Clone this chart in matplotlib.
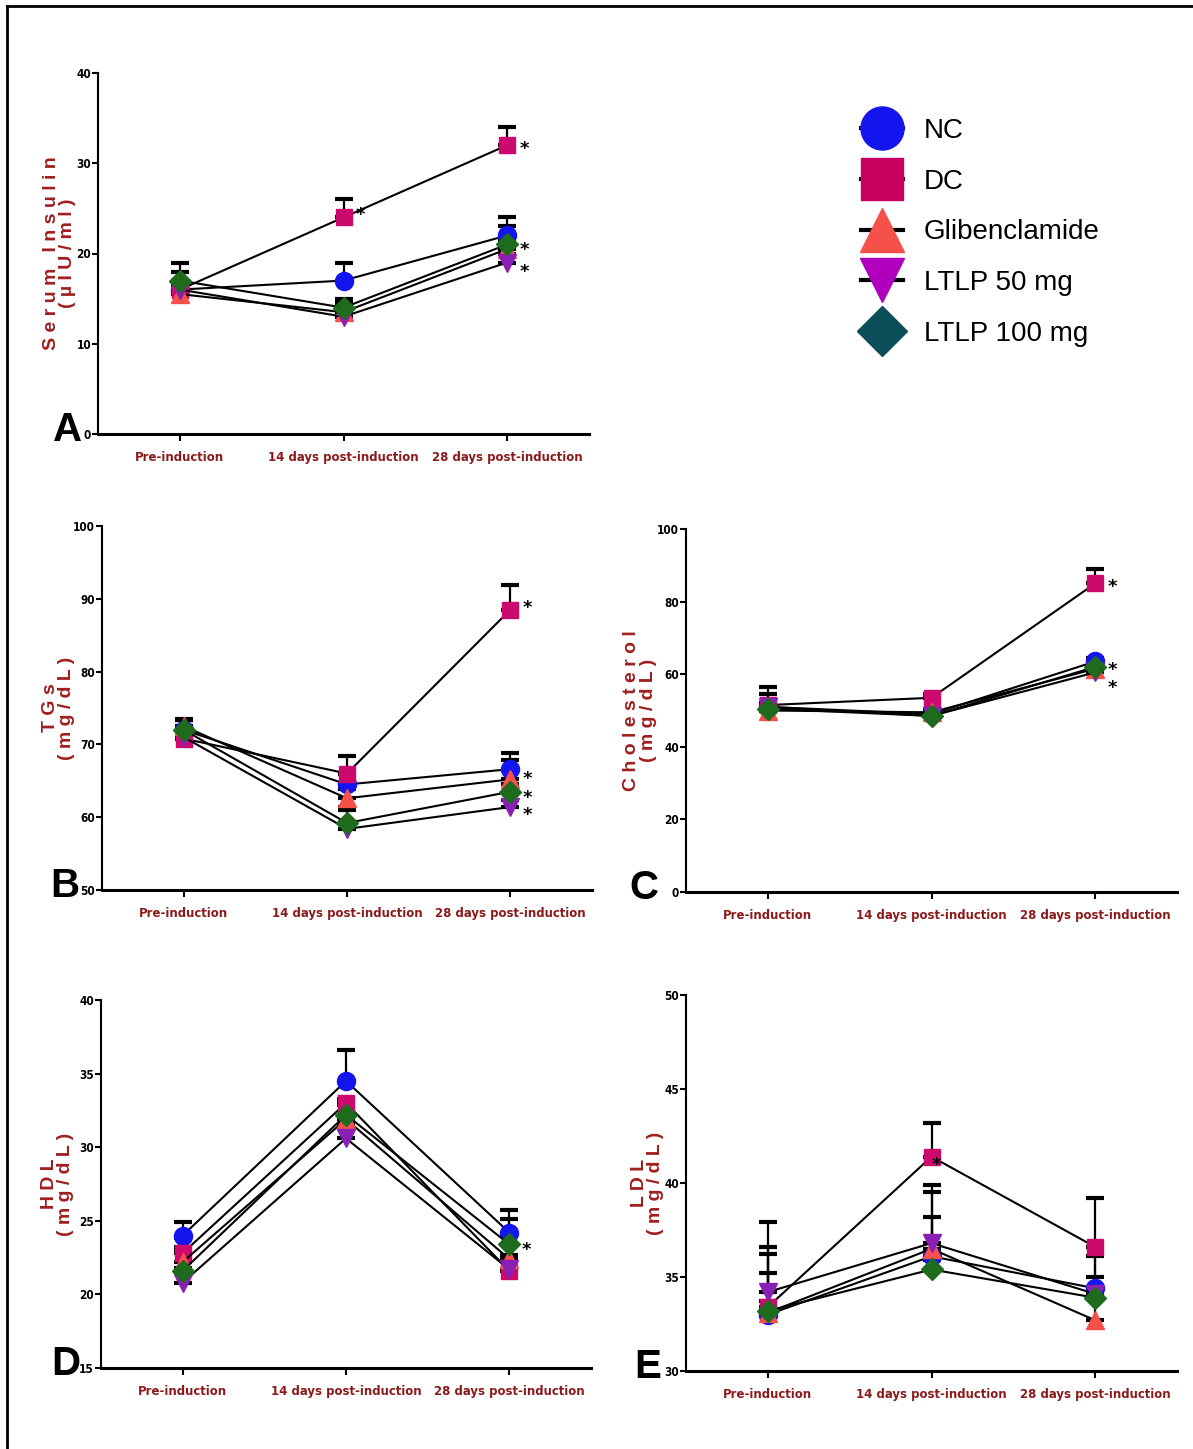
import numpy as np
import matplotlib
matplotlib.use("Agg")
import matplotlib.pyplot as plt
from matplotlib.lines import Line2D
from matplotlib import font_manager as fm

# --- data ---------------------------------------------------------------
groups = ["NC", "DC", "Glibenclamide", "LTLP 50 mg", "LTLP 100 mg"]
timepoints = ["Pre-induction", "14 days post-induction", "28 days post-induction"]

# A: serum insulin (µIU/ml)
insulin_mean = [[16, 17, 22], [16, 24, 32], [15.5, 13.5, 20.5], [16, 13, 19], [17, 14, 21]]
insulin_sem = [[2, 2, 2], [1, 2, 2], [1, 1, 1], [1, 1, 1], [2, 1, 2]]
# B: TGs (mg/dL)
tgs_mean = [[72, 64.5, 66.6], [70.8, 66, 88.5], [72.5, 62.6, 65.2], [71, 58.4, 61.4], [72, 59.2, 63.5]]
tgs_sem = [[1.4, 1.5, 2.2], [2.5, 2.4, 3.4], [1, 1.3, 2.7], [1, 2.6, 1], [1.3, 2.2, 1]]
# C: cholesterol (mg/dL)
chol_mean = [[51, 49, 63.5], [51.5, 53.5, 85], [50, 49.5, 61.5], [51, 48.5, 60.5], [50.5, 48.5, 62]]
chol_sem = [[3.5, 1, 1], [5, 1, 4], [1, 1, 1], [1, 1, 1], [1, 1, 1]]
# D: HDL (mg/dL)
hdl_mean = [[24, 34.5, 24.2], [22.8, 33, 21.6], [22.2, 31.9, 22.4], [20.8, 30.6, 21.7], [21.6, 32.2, 23.4]]
hdl_sem = [[0.9, 2.1, 1.5], [1, 0.3, 1], [1, 1, 1], [1, 1, 1], [1.5, 1, 1.7]]
# E: LDL (mg/dL)
ldl_mean = [[33, 36.1, 34.4], [33.4, 41.4, 36.6], [33.1, 36.5, 32.7], [34.2, 36.8, 34.1], [33.2, 35.4, 33.9]]
ldl_sem = [[3.6, 3.8, 2.2], [4.5, 1.8, 2.6], [3.1, 3.0, 3.4], [1, 1.4, 0.9], [0.5, 0.5, 0.5]]

# significance stars: (group index, timepoint index)
insulin_stars = [(1, 1), (1, 2), (4, 2), (3, 2)]
tgs_stars = [(1, 2), (2, 2), (4, 2), (3, 2)]
chol_stars = [(1, 2), (4, 2), (3, 2)]
hdl_stars = [(4, 2)]
ldl_stars = [(1, 1)]

# --- fonts: look for a narrow bold face (like the GraphPad labels) ------
narrow_path = None
for pref in ["Liberation Sans Narrow", "Arial Narrow", "DejaVu Sans", "Roboto Condensed"]:
    for f in fm.fontManager.ttflist:
        if f.name == pref and f.weight in (700, "bold") and (
                "Narrow" in f.name or f.stretch in ("condensed", 75, "semi-condensed", 87.5)
                or "Condensed" in f.fname):
            narrow_path = f.fname
            break
    if narrow_path:
        break


def narrow_font(size):
    if narrow_path:
        return fm.FontProperties(fname=narrow_path, size=size)
    return fm.FontProperties(family=['Liberation Sans', 'DejaVu Sans'], weight='bold', size=size)


plt.rcParams['font.family'] = ['Liberation Sans', 'DejaVu Sans']

plot_colors = ["#1414EE", "#CC0A6E", "#F5504A", "#8A1FB5", "#1E6B1E"]
legend_colors = ["#1414EE", "#C8005F", "#F5504A", "#B000BD", "#0B4E5A"]
markers = ["o", "s", "^", "v", "D"]
msizes = [13, 12, 13, 13, 11]
label_red = "#A01E1E"
tick_red = "#8B1A1A"

fig = plt.figure(figsize=(11.93, 14.49), dpi=100)
W, H = 1193, 1449
renderer = fig.canvas.get_renderer()

# size the category labels so the longest one spans ~150 px, like the reference
probe = fig.text(0, 0, timepoints[1], fontproperties=narrow_font(12))
cat_size = 12 * 150 / probe.get_window_extent(renderer).width
probe.remove()
ytick_size = 8.5


def make_axes(x0, x1, ytop, ybot):
    return fig.add_axes([x0 / W, 1 - ybot / H, (x1 - x0) / W, (ybot - ytop) / H])


def panel(ax, means, sems, stars, star_off, ylim, yticks, ylabel, letter, label_x, letter_x):
    x = np.arange(len(timepoints))
    for i in range(len(groups)):
        m = np.array(means[i])
        e = np.array(sems[i])
        ax.errorbar(x, m, yerr=[np.zeros_like(e), e], fmt='none', ecolor='black',
                    elinewidth=1.6, capsize=6.5, capthick=3, zorder=2)
    for i in range(len(groups)):
        ax.plot(x, means[i], color='black', lw=1.5, marker=markers[i], ms=msizes[i],
                mfc=plot_colors[i], mec=plot_colors[i], zorder=3 + i)
    for (gi, ti), off in zip(stars, star_off):
        ax.annotate("*", xy=(x[ti], means[gi][ti]), xytext=off, textcoords='offset points',
                    ha='left', va='center', fontsize=13, fontweight='bold',
                    family=['DejaVu Sans'], zorder=10)
    ax.set_xlim(-0.5, 2.5)
    ax.set_ylim(*ylim)
    ax.set_yticks(yticks)
    ax.set_xticks(x)
    ax.set_xticklabels(timepoints, color=tick_red, fontproperties=narrow_font(cat_size))
    ax.set_yticklabels([str(t) for t in yticks], fontproperties=narrow_font(ytick_size))
    ax.spines['top'].set_visible(False)
    ax.spines['right'].set_visible(False)
    ax.spines['left'].set_linewidth(1.5)
    ax.spines['bottom'].set_linewidth(2.2)
    ax.tick_params(axis='y', length=4, width=1.5, pad=1)
    ax.tick_params(axis='x', length=5, width=1.5, pad=7)
    ax.set_ylabel(ylabel, color=label_red, fontsize=14, fontweight='bold', linespacing=0.95)
    ax.yaxis.set_label_coords(label_x, 0.5)
    ax.text(letter_x, 0.01, letter, transform=ax.transAxes, ha='center', va='center',
            fontsize=29, fontweight='bold')


axA = make_axes(98, 589, 73, 434)
panel(axA, insulin_mean, insulin_sem, insulin_stars, [(9, 1.5), (9, -3), (9, -4), (9, -7)],
      (0, 40), [0, 10, 20, 30, 40],
      "S e r u m   I n s u l i n\n( µ I U / m l )", "A", -0.045, -0.063)

axB = make_axes(102, 592, 526, 890)
panel(axB, tgs_mean, tgs_sem, tgs_stars, [(9, 1), (9, 0), (9, -4.7), (9, -5.5)],
      (50, 100), [50, 60, 70, 80, 90, 100],
      "T G s\n( m g / d L )", "B", -0.055, -0.075)

axC = make_axes(686, 1177, 529, 892)
panel(axC, chol_mean, chol_sem, chol_stars, [(9, -2.5), (9, -2.5), (9, -11)],
      (0, 100), [0, 20, 40, 60, 80, 100],
      "C h o l e s t e r o l\n( m g / d L )", "C", -0.06, -0.085)

axD = make_axes(101, 591, 1000, 1368)
panel(axD, hdl_mean, hdl_sem, hdl_stars, [(9, -4.3)], (15, 40), [15, 20, 25, 30, 35, 40],
      "H D L\n( m g / d L )", "D", -0.055, -0.072)

axE = make_axes(686, 1177, 995, 1371)
panel(axE, ldl_mean, ldl_sem, ldl_stars, [(0, -6)], (30, 50), [30, 35, 40, 45, 50],
      "L D L\n( m g / d L )", "E", -0.045, -0.078)

# legend
handles = [Line2D([], [], color='black', lw=3, marker=markers[i],
                  ms=[31, 30, 32, 32, 25][i], mfc=legend_colors[i], mec=legend_colors[i])
           for i in range(len(groups))]
fig.legend(handles, groups, loc='upper left', bbox_to_anchor=(836 / W, 1 - 93 / H),
           frameon=False, handlelength=1.5, handletextpad=0.77, labelspacing=0.89,
           prop={'family': ['Liberation Sans', 'DejaVu Sans'], 'size': 20})

# frame lines (top and left)
fig.add_artist(Line2D([7 / W, 7 / W], [0, 1 - 6 / H], transform=fig.transFigure, color='black', lw=2))
fig.add_artist(Line2D([7 / W, 1], [1 - 6 / H, 1 - 6 / H], transform=fig.transFigure, color='black', lw=2))

fig.savefig("out.png", dpi=100)
